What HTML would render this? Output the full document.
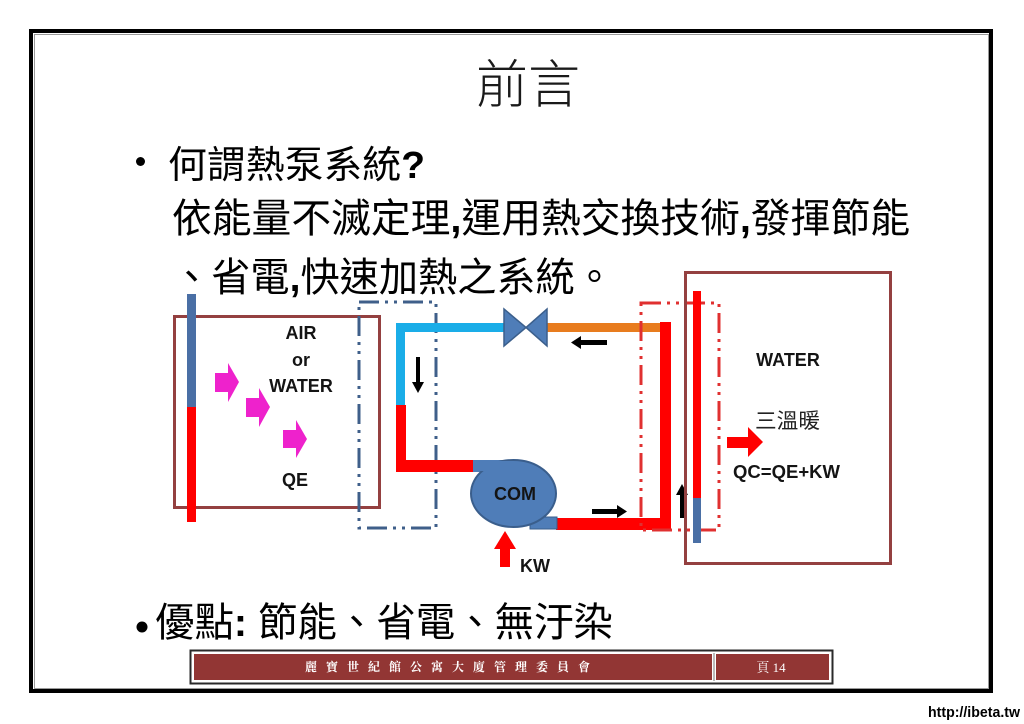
<!DOCTYPE html>
<html>
<head>
<meta charset="utf-8">
<style>
  html,body{margin:0;padding:0;background:#fff;}
  body{width:1024px;height:724px;overflow:hidden;}
  svg{display:block;}
  .cjk{font-family:"Liberation Sans","Noto Sans CJK TC",sans-serif;}
  .lbl{font-family:"Liberation Sans",sans-serif;font-weight:bold;fill:#141414;}
</style>
</head>
<body>
<svg width="1024" height="724" viewBox="0 0 1024 724" xmlns="http://www.w3.org/2000/svg">
  <!-- outer frame -->
  <rect x="31" y="31" width="960" height="660" fill="none" stroke="#000" stroke-width="4"/>
  <rect x="34.5" y="34.5" width="954" height="654" fill="none" stroke="#9a9a9a" stroke-width="1"/>

  <!-- title -->
  <text x="528" y="103" text-anchor="middle" class="cjk" font-size="52" font-weight="300" fill="#1a1a1a">前言</text>

  <!-- bullet 1 -->
  <circle cx="140.5" cy="161.5" r="4.5" fill="#000"/>
  <text x="168" y="178" class="cjk" font-size="38" fill="#000" textLength="257" lengthAdjust="spacingAndGlyphs">何謂熱泵系統<tspan font-weight="bold">?</tspan></text>
  <text x="172" y="232" class="cjk" font-size="40" fill="#000" textLength="738" lengthAdjust="spacingAndGlyphs">依能量不滅定理<tspan font-weight="bold">,</tspan>運用熱交換技術<tspan font-weight="bold">,</tspan>發揮節能</text>
  <text x="172" y="291" class="cjk" font-size="40" fill="#000" textLength="442" lengthAdjust="spacingAndGlyphs">、省電<tspan font-weight="bold">,</tspan>快速加熱之系統。</text>

  <!-- ================= diagram ================= -->
  <!-- left box -->
  <rect x="174.5" y="316.5" width="205" height="191" fill="none" stroke="#944040" stroke-width="3"/>
  <rect x="187" y="294" width="9" height="114" fill="#4A6FA5"/>
  <rect x="187" y="407" width="9" height="115" fill="#FF0000"/>

  <!-- magenta arrows -->
  <polygon points="215,373 228,373 228,363 239,382 228,402 228,392 215,392" fill="#EE22CC"/>
  <polygon points="246,398 259,398 259,388 270,407 259,427 259,417 246,417" fill="#EE22CC"/>
  <polygon points="283,430 296,430 296,420 307,439 296,458 296,448 283,448" fill="#EE22CC"/>

  <text x="301" y="339" text-anchor="middle" class="lbl" font-size="18">AIR</text>
  <text x="301" y="366" text-anchor="middle" class="lbl" font-size="18">or</text>
  <text x="301" y="392" text-anchor="middle" class="lbl" font-size="18">WATER</text>
  <text x="295" y="486" text-anchor="middle" class="lbl" font-size="18">QE</text>

  <!-- blue dash-dot rect -->
  <rect x="359" y="302" width="77" height="226" fill="none" stroke="#3F5F8A" stroke-width="3" stroke-dasharray="20 6 3 6 3 6"/>

  <!-- cyan pipe -->
  <rect x="396" y="323" width="9" height="93" fill="#1AADE8"/>
  <rect x="396" y="323" width="110" height="9" fill="#1AADE8"/>
  <!-- red left pipe -->
  <rect x="396" y="405" width="10" height="67" fill="#FF0000"/>
  <rect x="396" y="460" width="82" height="12" fill="#FF0000"/>

  <!-- orange pipe -->
  <rect x="546" y="323" width="118" height="9" fill="#E87C1E"/>
  <!-- red right pipe -->
  <rect x="660" y="322" width="11" height="208" fill="#FF0000"/>
  <rect x="556" y="518" width="115" height="12" fill="#FF0000"/>

  <!-- valve -->
  <polygon points="504,309 504,346 526,327.5" fill="#4F7DB8" stroke="#3B5F8C" stroke-width="1.5"/>
  <polygon points="547,309 547,346 526,327.5" fill="#4F7DB8" stroke="#3B5F8C" stroke-width="1.5"/>

  <!-- compressor -->
  <rect x="473" y="460" width="42" height="12" fill="#4F7DB8"/>
  <rect x="530" y="517" width="27" height="12" fill="#4F7DB8" stroke="#3A5E8C" stroke-width="1"/>
  <ellipse cx="513.5" cy="493.5" rx="42.5" ry="33.5" fill="#4F7DB8" stroke="#3A5E8C" stroke-width="2"/>
  <rect x="474" y="461" width="40" height="10" fill="#4F7DB8"/>
  <text x="515" y="500" text-anchor="middle" class="lbl" font-size="18" fill="#101828">COM</text>

  <!-- KW arrow -->
  <polygon points="505,531 516,549 510,549 510,567 500,567 500,549 494,549" fill="#FF0000"/>
  <text x="520" y="572" class="lbl" font-size="18">KW</text>

  <!-- black flow arrows -->
  <rect x="416" y="357" width="4" height="26" fill="#000"/>
  <polygon points="412,382 424,382 418,393" fill="#000"/>
  <rect x="580" y="340" width="27" height="5" fill="#000"/>
  <polygon points="581,336 581,349 571,342.5" fill="#000"/>
  <rect x="592" y="509" width="26" height="5" fill="#000"/>
  <polygon points="617,505 617,518 627,511.5" fill="#000"/>
  <rect x="680" y="494" width="4" height="24" fill="#000"/>
  <polygon points="676,495 688,495 682,484" fill="#000"/>

  <!-- red dash-dot rect -->
  <rect x="641" y="303" width="78" height="227" fill="none" stroke="#E03030" stroke-width="3" stroke-dasharray="20 6 3 6 3 6"/>

  <!-- right box -->
  <rect x="685.5" y="272.5" width="205" height="291" fill="none" stroke="#944040" stroke-width="3"/>
  <rect x="693" y="291" width="8" height="208" fill="#FF0000"/>
  <rect x="693" y="498" width="8" height="45" fill="#4A6FA5"/>

  <text x="788" y="366" text-anchor="middle" class="lbl" font-size="18">WATER</text>
  <text x="755" y="428" class="cjk" font-size="21" fill="#222" textLength="65" lengthAdjust="spacingAndGlyphs">三溫暖</text>
  <polygon points="727,437 748,437 748,427 763,442 748,457 748,448 727,448" fill="#FF0000"/>
  <text x="733" y="478" class="lbl" font-size="18" textLength="107" lengthAdjust="spacingAndGlyphs">QC=QE+KW</text>

  <!-- bullet 2 -->
  <circle cx="142" cy="627" r="5.5" fill="#000"/>
  <text x="155" y="636" class="cjk" font-size="40" fill="#000" textLength="458" lengthAdjust="spacingAndGlyphs">優點<tspan font-weight="bold">:</tspan> 節能、省電、無汙染</text>

  <!-- footer -->
  <rect x="190.5" y="650.5" width="642" height="33" fill="#fff" stroke="#2a2a2a" stroke-width="2"/>
  <rect x="194" y="654" width="518" height="26" fill="#923634"/>
  <rect x="716" y="654" width="113" height="26" fill="#923634"/>
  <line x1="714" y1="653" x2="714" y2="681" stroke="#777" stroke-width="1"/>
  <text x="305" y="671" font-family="'Noto Serif CJK SC',serif" font-weight="bold" font-size="12" fill="#fff" textLength="285" lengthAdjust="spacing">麗寶世紀館公寓大廈管理委員會</text>
  <text x="771" y="672" text-anchor="middle" font-family="'Liberation Serif','Noto Serif CJK SC',serif" font-size="13" fill="#fff">頁 14</text>

  <!-- watermark -->
  <text x="928" y="717" font-family="'Liberation Sans',sans-serif" font-weight="bold" font-size="15" fill="#000" stroke="#fff" stroke-width="2.5" paint-order="stroke" textLength="92" lengthAdjust="spacingAndGlyphs">http://ibeta.tw</text>
</svg>
</body>
</html>
